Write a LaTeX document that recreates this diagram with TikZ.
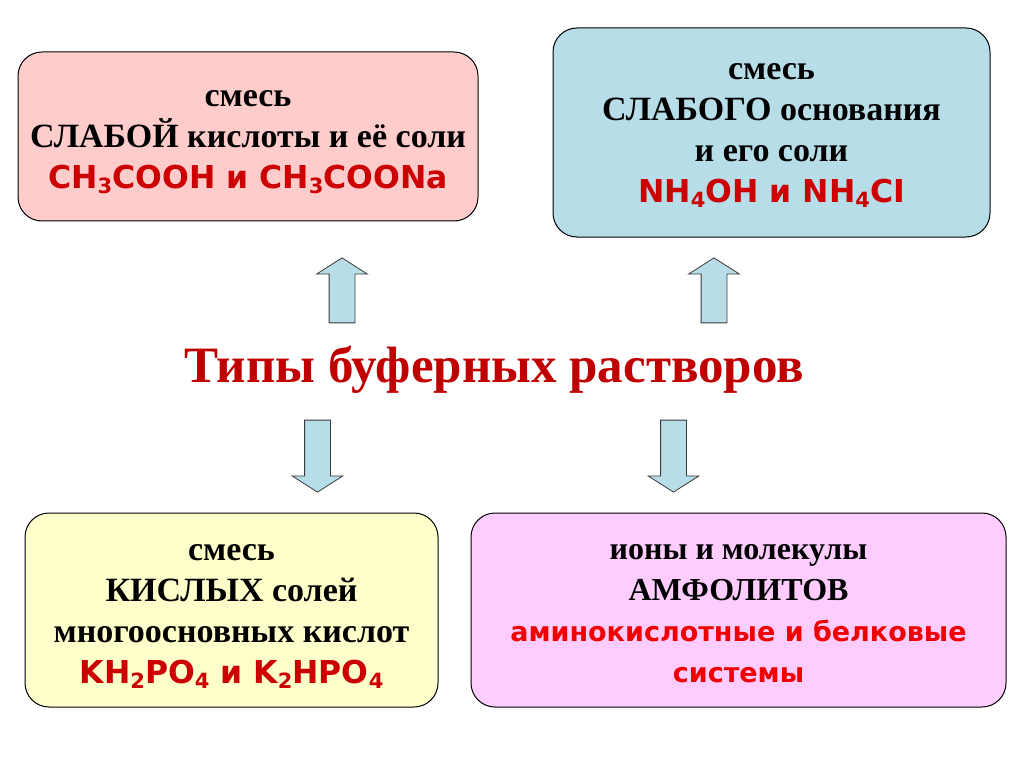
\documentclass[tikz,border=0pt]{standalone}
\usepackage{fontspec}
\setmainfont{Liberation Serif}
\newfontfamily\chemfont{DejaVu Sans}
\usetikzlibrary{shapes.arrows,positioning}
\definecolor{TitleRed}{HTML}{C00000}
\definecolor{ChemRed}{HTML}{CC0000}
\definecolor{BrightRed}{HTML}{F00000}
\definecolor{SoftPink}{HTML}{FFCCCC}
\definecolor{SoftCyan}{HTML}{B7DEE8}
\definecolor{SoftYellow}{HTML}{FFFFCC}
\definecolor{SoftViolet}{HTML}{FFCCFF}
\definecolor{EdgeGray}{HTML}{3A3A3A}
\newcommand{\chsub}[1]{\raisebox{-5pt}{\fontsize{21}{21}\selectfont #1}}
\newcommand{\padtop}[1]{\rule{0pt}{#1}}
\newcommand{\chemline}[2]{{\chemfont\fontsize{31.5}{41}\selectfont\color{#1}#2}}
\newcommand{\amphline}[1]{{\chemfont\fontsize{27}{41}\selectfont\color{BrightRed}#1}}

\begin{document}
\begin{tikzpicture}[x=1pt, y=-1pt,
  kindbox/.style={
    draw=black,
    line width=1pt,
    rounded corners=24pt,
    align=center,
    font=\fontsize{34}{41}\selectfont\bfseries,
    inner sep=0pt
  },
  blockarrow/.style={
    single arrow,
    draw=EdgeGray,
    fill=SoftCyan,
    line width=0.8pt,
    inner xsep=0pt,
    inner ysep=12.5pt,
    single arrow head extend=12.5pt,
    single arrow tip angle=115
  }
]

% Page
\fill[white] (0,0) rectangle (1024,767);
\useasboundingbox (0,0) rectangle (1024,767);

% Title
\node[font=\fontsize{51}{60}\selectfont\bfseries, text=TitleRed]
  (title) at (494,370) {Типы буферных растворов};

% Top boxes
\node[kindbox, fill=SoftPink, minimum width=460pt, minimum height=169pt]
  (acid) at (248,136.5)
  {\padtop{27.5pt}смесь\\ СЛАБОЙ кислоты и её соли\\
   \chemline{ChemRed}{CH\chsub{3}COOH и CH\chsub{3}COONa}};

\node[kindbox, fill=SoftCyan, minimum width=437pt, minimum height=209pt]
  (base) at (771.5,132.5)
  {\padtop{23pt}смесь\\ СЛАБОГО основания\\ и его соли\\
   \chemline{ChemRed}{NH\chsub{4}OH и NH\chsub{4}CI}};

% Bottom boxes
\node[kindbox, fill=SoftYellow, minimum width=413pt, minimum height=194pt]
  (salts) at (231.5,610)
  {\padtop{28pt}смесь\\ КИСЛЫХ солей\\ многоосновных кислот\\
   \chemline{ChemRed}{KH\chsub{2}PO\chsub{4} и K\chsub{2}HPO\chsub{4}}};

\node[kindbox, fill=SoftViolet, minimum width=535pt, minimum height=194pt,
  font=\fontsize{32}{41}\selectfont\bfseries]
  (ampho) at (738.5,610)
  {\padtop{23pt}ионы и молекулы\\ АМФОЛИТОВ\\
   \amphline{аминокислотные и белковые}\\ \amphline{системы}};

% Arrows
\node[blockarrow, rotate=90, minimum height=65pt] (upacid) at (342,294.5) {};
\node[blockarrow, rotate=90, minimum height=65pt] (upbase) at (714,294.5) {};
\node[blockarrow, rotate=-90, minimum height=72pt] (downsalts) at (317.5,452) {};
\node[blockarrow, rotate=-90, minimum height=72pt] (downampho) at (673.5,452) {};

\end{tikzpicture}
\end{document}
